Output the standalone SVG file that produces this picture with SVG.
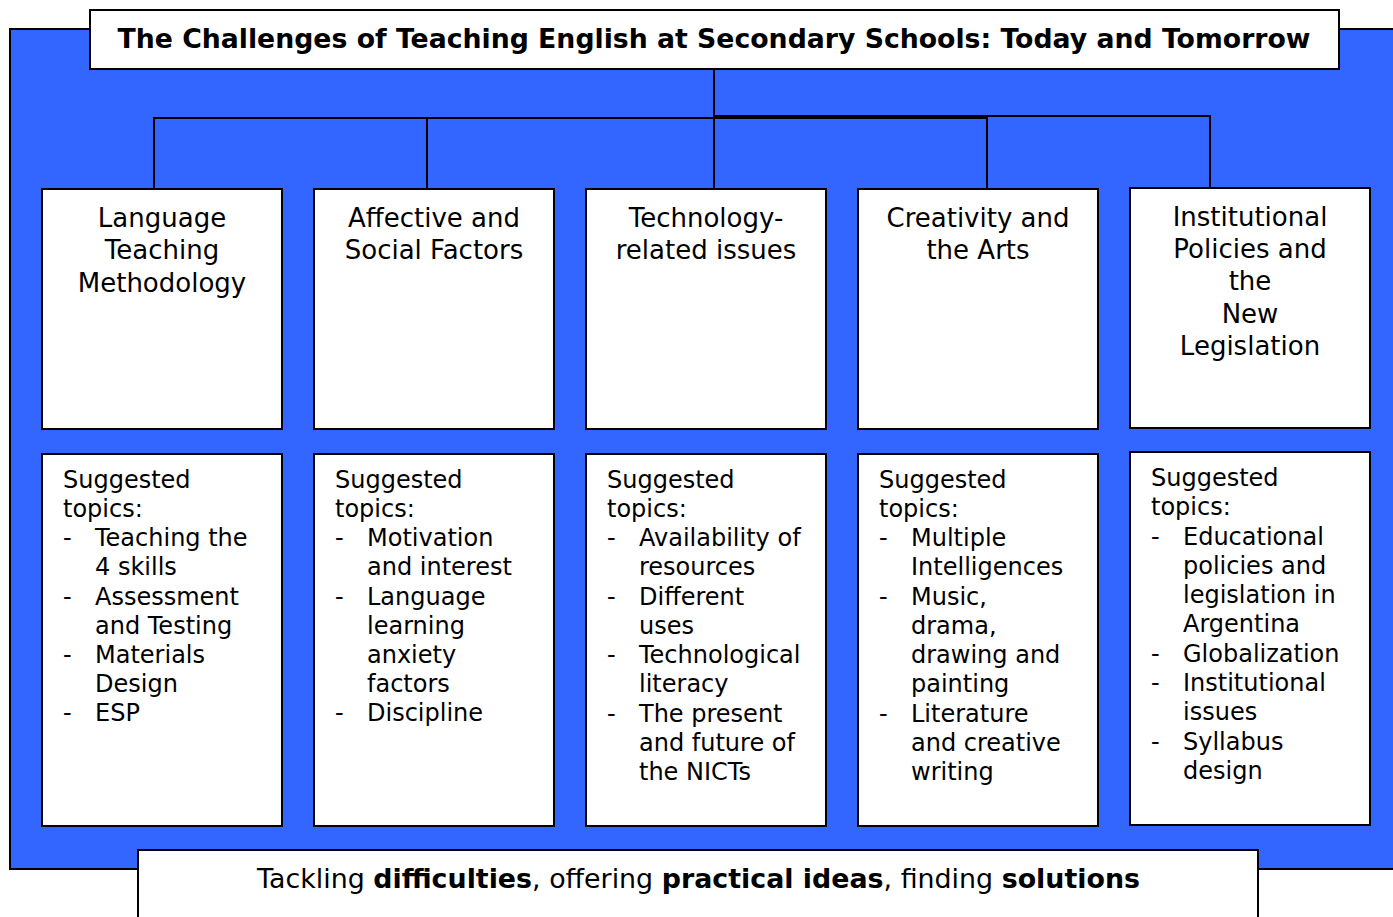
<svg xmlns="http://www.w3.org/2000/svg" width="1393" height="917" viewBox="0 0 1393 917">
<style>
.box{fill:#fff;stroke:#000;stroke-width:2}
.ln{stroke:#000;stroke-width:2;fill:none}
.t{font-family:"DejaVu Sans",Verdana,sans-serif;fill:#000}
.h{font-size:26px;text-anchor:middle}
.s{font-size:24px}
.b{font-weight:bold}
</style>
<rect x="10" y="29" width="1390" height="840" fill="#3366FF" stroke="#000" stroke-width="2"/>
<g id="connectors">
<path class="ln" d="M714 69V118M154 189V118H987V189M427 118V189M714 118V189M714 116H1210V188"/>
</g>
<g id="title">
<rect class="box" x="90" y="10" width="1249" height="59"/>
<text class="t b" x="714" y="48" font-size="26" text-anchor="middle" textLength="1193" lengthAdjust="spacingAndGlyphs">The Challenges of Teaching English at Secondary Schools: Today and Tomorrow</text>
</g>
<g id="n1">
<rect class="box" x="42" y="189" width="240" height="240"/>
<text class="t h" x="162"><tspan x="162" y="227">Language</tspan><tspan x="162" y="259">Teaching</tspan><tspan x="162" y="292">Methodology</tspan></text>
</g>
<g id="n2">
<rect class="box" x="314" y="189" width="240" height="240"/>
<text class="t h"><tspan x="434" y="227">Affective and</tspan><tspan x="434" y="259">Social Factors</tspan></text>
</g>
<g id="n3">
<rect class="box" x="586" y="189" width="240" height="240"/>
<text class="t h"><tspan x="706" y="227">Technology-</tspan><tspan x="706" y="259">related issues</tspan></text>
</g>
<g id="n4">
<rect class="box" x="858" y="189" width="240" height="240"/>
<text class="t h"><tspan x="978" y="227">Creativity and</tspan><tspan x="978" y="259">the Arts</tspan></text>
</g>
<g id="n5">
<rect class="box" x="1130" y="188" width="240" height="240"/>
<text class="t h"><tspan x="1250" y="226">Institutional</tspan><tspan x="1250" y="258">Policies and</tspan><tspan x="1250" y="290">the</tspan><tspan x="1250" y="323">New</tspan><tspan x="1250" y="355">Legislation</tspan></text>
</g>
<g id="d1">
<rect class="box" x="42" y="454" width="240" height="372"/>
<text class="t s"><tspan x="63" y="488">Suggested</tspan><tspan x="63" y="517">topics:</tspan>
<tspan x="63" y="546">-</tspan><tspan x="95" y="546">Teaching the</tspan><tspan x="95" y="575">4 skills</tspan>
<tspan x="63" y="605">-</tspan><tspan x="95" y="605">Assessment</tspan><tspan x="95" y="634">and Testing</tspan>
<tspan x="63" y="663">-</tspan><tspan x="95" y="663">Materials</tspan><tspan x="95" y="692">Design</tspan>
<tspan x="63" y="721">-</tspan><tspan x="95" y="721">ESP</tspan></text>
</g>
<g id="d2">
<rect class="box" x="314" y="454" width="240" height="372"/>
<text class="t s"><tspan x="335" y="488">Suggested</tspan><tspan x="335" y="517">topics:</tspan>
<tspan x="335" y="546">-</tspan><tspan x="367" y="546">Motivation</tspan><tspan x="367" y="575">and interest</tspan>
<tspan x="335" y="605">-</tspan><tspan x="367" y="605">Language</tspan><tspan x="367" y="634">learning</tspan><tspan x="367" y="663">anxiety</tspan><tspan x="367" y="692">factors</tspan>
<tspan x="335" y="721">-</tspan><tspan x="367" y="721">Discipline</tspan></text>
</g>
<g id="d3">
<rect class="box" x="586" y="454" width="240" height="372"/>
<text class="t s"><tspan x="607" y="488">Suggested</tspan><tspan x="607" y="517">topics:</tspan>
<tspan x="607" y="546">-</tspan><tspan x="639" y="546">Availability of</tspan><tspan x="639" y="575">resources</tspan>
<tspan x="607" y="605">-</tspan><tspan x="639" y="605">Different</tspan><tspan x="639" y="634">uses</tspan>
<tspan x="607" y="663">-</tspan><tspan x="639" y="663">Technological</tspan><tspan x="639" y="692">literacy</tspan>
<tspan x="607" y="722">-</tspan><tspan x="639" y="722">The present</tspan><tspan x="639" y="751">and future of</tspan><tspan x="639" y="780">the NICTs</tspan></text>
</g>
<g id="d4">
<rect class="box" x="858" y="454" width="240" height="372"/>
<text class="t s"><tspan x="879" y="488">Suggested</tspan><tspan x="879" y="517">topics:</tspan>
<tspan x="879" y="546">-</tspan><tspan x="911" y="546">Multiple</tspan><tspan x="911" y="575">Intelligences</tspan>
<tspan x="879" y="605">-</tspan><tspan x="911" y="605">Music,</tspan><tspan x="911" y="634">drama,</tspan><tspan x="911" y="663">drawing and</tspan><tspan x="911" y="692">painting</tspan>
<tspan x="879" y="722">-</tspan><tspan x="911" y="722">Literature</tspan><tspan x="911" y="751">and creative</tspan><tspan x="911" y="780">writing</tspan></text>
</g>
<g id="d5">
<rect class="box" x="1130" y="452" width="240" height="373"/>
<text class="t s"><tspan x="1151" y="486">Suggested</tspan><tspan x="1151" y="515">topics:</tspan>
<tspan x="1151" y="545">-</tspan><tspan x="1183" y="545">Educational</tspan><tspan x="1183" y="574">policies and</tspan><tspan x="1183" y="603">legislation in</tspan><tspan x="1183" y="632">Argentina</tspan>
<tspan x="1151" y="662">-</tspan><tspan x="1183" y="662">Globalization</tspan>
<tspan x="1151" y="691">-</tspan><tspan x="1183" y="691">Institutional</tspan><tspan x="1183" y="720">issues</tspan>
<tspan x="1151" y="750">-</tspan><tspan x="1183" y="750">Syllabus</tspan><tspan x="1183" y="779">design</tspan></text>
</g>
<g id="footer">
<rect class="box" x="138" y="850" width="1120" height="80"/>
<text class="t" x="257" y="888" font-size="26" textLength="883" lengthAdjust="spacingAndGlyphs">Tackling <tspan class="b">difficulties</tspan>, offering <tspan class="b">practical ideas</tspan>, finding <tspan class="b">solutions</tspan></text>
</g>
</svg>
